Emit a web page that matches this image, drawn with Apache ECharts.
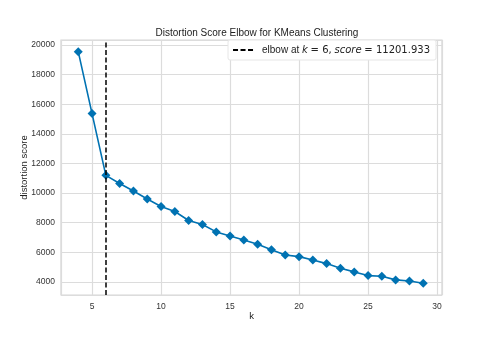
<!DOCTYPE html>
<html>
<head>
<meta charset="utf-8">
<script src="https://cdn.jsdelivr.net/npm/echarts@6/dist/echarts.min.js"></script>
<style>
html, body { margin: 0; padding: 0; background: #fff; }
#chart { width: 491px; height: 337px; }
</style>
</head>
<body>
<div id="chart"></div>
<script>
// k values and distortion scores
var kValues = [4, 5, 6, 7, 8, 9, 10, 11, 12, 13, 14, 15, 16, 17, 18, 19, 20, 21, 22, 23, 24, 25, 26, 27, 28, 29];
var scores = [19550, 15370, 11201.933, 10650, 10140, 9600, 9100, 8760, 8150, 7880, 7380, 7110, 6840, 6550, 6180, 5820, 5710, 5480, 5240, 4920, 4680, 4430, 4390, 4140, 4070, 3910];
var elbowK = 6;
var elbowScore = 11201.933;

var points = kValues.map(function (k, i) { return [k, scores[i]]; });

var chart = echarts.init(document.getElementById('chart'));
var font = '"Liberation Sans", Arial, sans-serif';

chart.setOption({
    animation: false,
    backgroundColor: '#fff',
    title: {
        text: 'Distortion Score Elbow for KMeans Clustering',
        left: 252,
        top: 23,
        textAlign: 'center',
        textStyle: { fontFamily: font, fontSize: 10, fontWeight: 'normal', color: '#222' }
    },
    grid: {
        left: 61, right: 49, top: 40, bottom: 42,
        show: true, borderColor: '#d5d5d5', borderWidth: 1.2
    },
    legend: {
        data: ['elbow'],
        right: 55,
        top: 40,
        itemWidth: 20,
        itemHeight: 10,
        padding: [5, 6, 5, 4],
        backgroundColor: '#fff',
        borderColor: '#e6e6e6',
        borderWidth: 1,
        borderRadius: 2,
        itemStyle: { color: 'rgba(0,0,0,0)', borderWidth: 0, opacity: 0 },
        formatter: function () {
            return '{t|elbow at }{i|k} {m|= ' + elbowK + ',} {i|score} {m|= ' + elbowScore.toFixed(3) + '}';
        },
        textStyle: {
            fontFamily: font, fontSize: 10, color: '#222',
            rich: {
                t: { fontFamily: font, fontSize: 10, color: '#222', padding: [0, 0, 0, 4] },
                i: { fontFamily: '"DejaVu Sans", sans-serif', fontStyle: 'italic', fontSize: 10, color: '#222' },
                m: { fontFamily: '"DejaVu Sans", sans-serif', fontSize: 10, color: '#222' }
            }
        }
    },
    xAxis: {
        type: 'value',
        min: 2.75,
        max: 30.36,
        splitNumber: 6,
        name: 'k',
        nameLocation: 'middle',
        nameGap: 16,
        nameMoveOverlap: false,
        nameTextStyle: { fontFamily: font, fontSize: 9.5, color: '#222' },
        axisLine: { show: false },
        axisTick: { show: false },
        axisLabel: { fontFamily: font, fontSize: 8.5, color: '#333', margin: 7, showMinLabel: false, showMaxLabel: false },
        splitLine: { show: true, lineStyle: { color: '#dcdcdc', width: 1.2 } }
    },
    yAxis: {
        type: 'value',
        min: 3120,
        max: 20340,
        splitNumber: 8,
        name: 'distortion score',
        nameLocation: 'middle',
        nameGap: 32,
        nameMoveOverlap: false,
        nameTextStyle: { fontFamily: font, fontSize: 9.5, color: '#222' },
        axisLine: { show: false },
        axisTick: { show: false },
        axisLabel: {
            fontFamily: font, fontSize: 8.5, color: '#333', margin: 6,
            showMinLabel: false, showMaxLabel: false,
            formatter: function (v) { return String(v); }
        },
        splitLine: { show: true, lineStyle: { color: '#dcdcdc', width: 1.2 } }
    },
    series: [
        {
            name: 'distortion',
            type: 'line',
            data: points,
            symbol: 'diamond',
            symbolSize: 9,
            itemStyle: { color: '#0072b2' },
            lineStyle: { color: '#0072b2', width: 1.6 },
            z: 3
        },
        {
            name: 'elbow',
            type: 'line',
            data: [],
            symbol: 'none',
            itemStyle: { color: '#000' },
            lineStyle: { color: '#000', width: 1.5, type: [5, 2.5] },
            markLine: {
                silent: true,
                symbol: 'none',
                label: { show: false },
                lineStyle: { color: '#000', width: 1.5, type: [5, 2.5] },
                data: [{ xAxis: elbowK }]
            },
            z: 4
        }
    ]
});
</script>
</body>
</html>
